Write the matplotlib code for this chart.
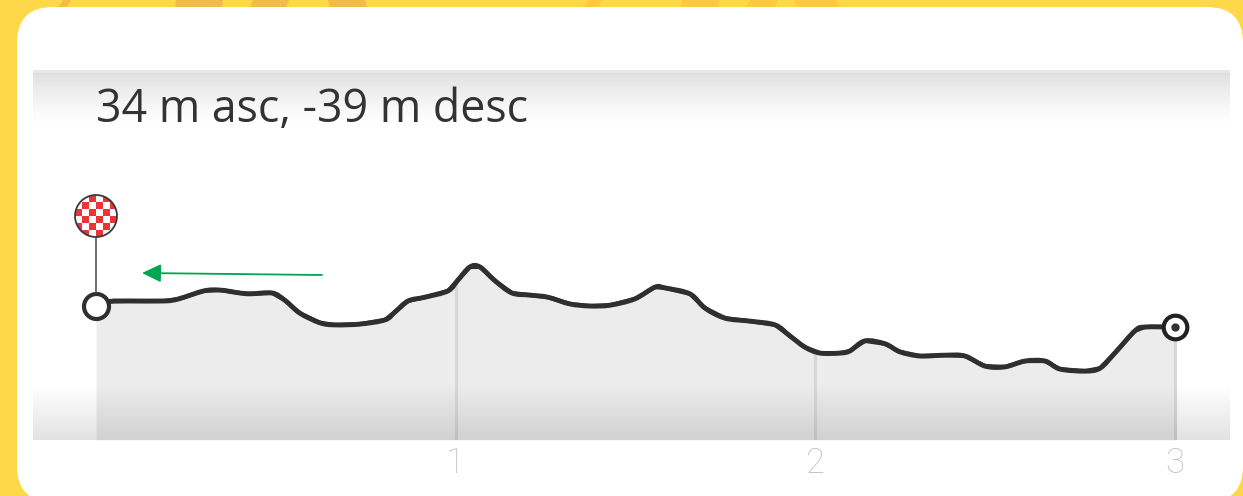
import numpy as np
import matplotlib
matplotlib.use("Agg")
import matplotlib.pyplot as plt
from matplotlib.patches import FancyBboxPatch, Polygon, Circle, PathPatch
from matplotlib.path import Path

distance_km = [0, .04, .09, .19, .23, .30, .345, .40, .43, .49, .525, .567, .623, .665, .734, .804, .832, .868,
               .915, .979, 1.007, 1.04, 1.068, 1.11, 1.157, 1.207, 1.257, 1.318, 1.374, 1.43, 1.499, 1.555,
               1.583, 1.652, 1.694, 1.75, 1.819, 1.889, 1.93, 1.972, 2.014, 2.07, 2.097, 2.139, 2.195, 2.236,
               2.292, 2.362, 2.417, 2.473, 2.528, 2.584, 2.64, 2.681, 2.751, 2.793, 2.834, 2.89, 2.918, 3.0]
elevation_m = [31.9, 33.0, 33.1, 33.1, 33.6, 35.5, 35.7, 35.0, 34.8, 35.0, 33.3, 30.2, 27.9, 27.4, 27.6, 28.6, 30.5,
               33.1, 34.0, 35.5, 38.1, 41.2, 41.2, 37.9, 35.0, 34.5, 34.0, 32.4, 31.9, 32.1, 33.6, 36.4, 36.2,
               34.8, 31.4, 29.0, 28.3, 27.4, 24.8, 22.1, 20.7, 20.7, 21.2, 23.6, 22.9, 21.0, 20.0, 20.2, 20.0,
               17.6, 17.4, 18.8, 18.8, 16.9, 16.4, 17.1, 20.7, 26.0, 26.9, 26.9]
tick_km = [1, 2, 3]
tick_labels = ["1", "2", "3"]
summary = "34 m asc, -39 m desc"

W, H = 1243, 496
KM_PX = 359.5
M_PX = 4.2
X0_PX = 96
AX_L, AX_R, AX_T, AX_B = 33, 1230, 70, 440
INK = "#2f2f2f"

fig = plt.figure(figsize=(W / 100, H / 100), dpi=100, facecolor="#FFD84A")

# page background (card and the striped strip above it)
bg = fig.add_axes([0, 0, 1, 1], zorder=0)
bg.set_xlim(0, W); bg.set_ylim(H, 0); bg.axis("off")
for x0, x1, lean, c in [(58, 66, 5, "#F2BC45"), (175, 222, 1, "#F2BC45"), (250, 286, 3, "#F2BC45"), (330, 367, -2, "#F2BC45"),
                        (583, 597, 5, "#FFC844"), (681, 718, 1, "#FFC844"), (746, 774, 4, "#FFC844"), (798, 840, -4, "#FFC844")]:
    bg.add_patch(Polygon([(x0 + lean, 0), (x1 + lean, 0), (x1, 8), (x0, 8)], fc=c, ec="none"))
bg.add_patch(FancyBboxPatch((17 + 36, 7 + 36), W - 17 - 72, H - 7 - 72 + 6,
                            boxstyle="round,pad=36,rounding_size=36", fc="white", ec="none"))

# chart
ax = fig.add_axes([AX_L / W, 1 - AX_B / H, (AX_R - AX_L) / W, (AX_B - AX_T) / H], zorder=1)
ax.set_xlim((AX_L - X0_PX) / KM_PX, (AX_R - X0_PX) / KM_PX)
ax.set_ylim(0, (AX_B - AX_T) / M_PX)
ax.patch.set_alpha(0)
for s in ax.spines.values():
    s.set_visible(False)
xl, yl = ax.get_xlim(), ax.get_ylim()

ax.fill_between(distance_km, elevation_m, 0, color="#ececec", lw=0, zorder=1)
for t in tick_km:
    ax.vlines(t, 0, np.interp(t, distance_km, elevation_m), color="#d8d8d8", lw=2.2, zorder=2)

rgba = np.ones((64, 1, 4)); rgba[..., :3] = 0.87
rgba[..., 3] = (np.linspace(1, 0, 64).reshape(-1, 1)) ** 1.3
ax.imshow(rgba, extent=(xl[0], xl[1], yl[1] - 54 / M_PX, yl[1]), aspect="auto", origin="upper", zorder=0, interpolation="bilinear")
rgba2 = np.zeros((64, 1, 4))
rgba2[..., 3] = np.linspace(0, 0.115, 64).reshape(-1, 1)
ax.imshow(rgba2, extent=(xl[0], xl[1], 0, 56 / M_PX), aspect="auto", origin="upper", zorder=3, interpolation="bilinear")
ax.axhline(yl[1] - 1 / M_PX, color="#e8e8e8", lw=2, zorder=1)
ax.set_xlim(xl); ax.set_ylim(yl)

ax.plot(distance_km, elevation_m, color=INK, lw=3.0, solid_joinstyle="round", solid_capstyle="round", zorder=4)

# the same points drawn as a smooth curve, as the original line is rounded
xs, ys = np.array(distance_km), np.array(elevation_m)
verts = [(xs[0], ys[0])]
codes = [Path.MOVETO]
for i in range(len(xs) - 1):
    a, b = max(i - 1, 0), min(i + 2, len(xs) - 1)
    verts += [(xs[i] + (xs[i + 1] - xs[a]) / 6, ys[i] + (ys[i + 1] - ys[a]) / 6),
              (xs[i + 1] - (xs[b] - xs[i]) / 6, ys[i + 1] - (ys[b] - ys[i]) / 6),
              (xs[i + 1], ys[i + 1])]
    codes += [Path.CURVE4] * 3
ax.add_patch(PathPatch(Path(verts, codes), fc="none", ec=INK, lw=3.5, capstyle="round", joinstyle="round", zorder=4))

ax.plot(distance_km[-1], elevation_m[-1], "o", ms=17, mfc="white", mec="#222222", mew=3, zorder=5)
ax.plot(distance_km[-1], elevation_m[-1], "o", ms=6, color="#333333", mew=0, zorder=6)
ax.plot(distance_km[0], elevation_m[0], "o", ms=18, mfc="white", mec=INK, mew=3, zorder=5)

ax.set_xticks(tick_km, tick_labels)
ax.set_yticks([])
ax.tick_params(axis="x", length=0, pad=5, labelcolor="#c2c2c2", labelsize=25)
for lab in ax.get_xticklabels():
    lab.set_family("Roboto"); lab.set_weight("light")

# annotations
ov = fig.add_axes([0, 0, 1, 1], zorder=2)
ov.set_xlim(0, W); ov.set_ylim(H, 0); ov.axis("off"); ov.patch.set_alpha(0)
ov.text(96, 122, summary, family="Open Sans", fontsize=32.2, color="#333333", va="baseline", ha="left")
ov.plot([96, 96], [236, 292], color="#555555", lw=1.2, zorder=2)
cx, cy, r = 96, 216, 21
clip = Circle((cx, cy), r, transform=ov.transData, fc="none", ec="none")
ov.add_patch(clip)
n = 6
checks = np.indices((n, n)).sum(axis=0) % 2
im = ov.imshow(checks, cmap=matplotlib.colors.ListedColormap(["#EE3338", "white"]), extent=(cx - r, cx + r, cy + r, cy - r),
               aspect="auto", zorder=3, interpolation="nearest")
im.set_clip_path(clip)
ov.add_patch(Circle((cx, cy), r, fc="none", ec="#3a3a3a", lw=1.3, zorder=4))
ov.annotate("", xy=(142, 273), xytext=(322, 275),
            arrowprops=dict(arrowstyle="-|>,head_length=1.15,head_width=0.55", color="#00A651", lw=1.3, shrinkA=0, shrinkB=0))
ov.set_xlim(0, W); ov.set_ylim(H, 0)

fig.savefig("out.png", dpi=100, facecolor=fig.get_facecolor())
